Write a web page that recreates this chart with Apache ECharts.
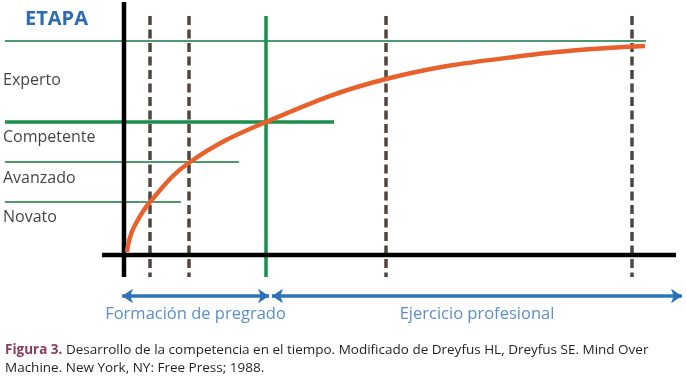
<!DOCTYPE html>
<html>
<head>
<meta charset="utf-8">
<script src="https://cdn.jsdelivr.net/npm/echarts@6/dist/echarts.min.js"></script>
<style>
html,body{margin:0;padding:0;background:#fff;}
#c{width:686px;height:378px;}
</style>
</head>
<body>
<div id="c"></div>
<script>
// Time axis (x) and competence axis (y), in chart units
const levelNames = ['Novato', 'Avanzado', 'Competente', 'Experto'];
const levelLabelY = [38, 77, 118, 175];
const levelBoundY = [53, 93, 133, 214];
const levelBoundEnd = [57, 115, 210, 522];
const dashedTimes = [26, 65, 262, 508];
const graduationTime = 142;
const curveX = [3, 5, 10, 26, 66, 142, 262, 406, 521];
const curveY = [3, 14, 28, 53, 93, 133, 176, 200, 209];
const phases = ['Formación de pregrado', 'Ejercicio profesional'];
const phaseStart = [-2, 148];
const phaseEnd = [145, 558];

const W = 686, H = 378, X0 = 124, Y0 = 255;
const LEFT = -119, TOP = 239, BOTTOM = -22;
const GREEN = '#1b8f4c', THIN = '#127a3c', BLUE = '#2e73b8', DASH = '#51463f';

const series = [];
function seg(pts, style) {
  series.push({type: 'line', data: pts, symbol: 'none', silent: true, lineStyle: style, z: style.z || 2});
}
// level boundary lines
levelBoundY.forEach((y, i) => {
  const thick = i === 2;
  seg([[LEFT, y], [levelBoundEnd[i], y]], {color: thick ? GREEN : THIN, width: thick ? 3.5 : 1.3});
});
// dashed time dividers
dashedTimes.forEach(t => seg([[t, TOP], [t, BOTTOM]], {color: DASH, width: 3.5, type: [9, 4.5]}));
// graduation line
seg([[graduationTime, TOP], [graduationTime, BOTTOM]], {color: GREEN, width: 3.5});
// axes
seg([[0, 253], [0, BOTTOM]], {color: '#000', width: 4.5, z: 3});
seg([[-22, 0], [552, 0]], {color: '#000', width: 4.5, z: 3});
// competence curve
series.push({
  type: 'line', smooth: 0.4, symbol: 'none', silent: true, z: 4,
  data: curveX.map((x, i) => [x, curveY[i]]),
  lineStyle: {color: '#e8612c', width: 4.5}
});
// phase arrows
series.push({
  type: 'lines', coordinateSystem: 'cartesian2d', silent: true, z: 4,
  symbol: ['arrow', 'arrow'], symbolSize: [11, 11],
  lineStyle: {color: BLUE, width: 3.5, opacity: 1},
  data: phases.map((p, i) => ({coords: [[phaseStart[i], -41], [phaseEnd[i], -41]]}))
});
// phase labels
series.push({
  type: 'scatter', symbolSize: 0, silent: true, z: 5,
  data: phases.map((p, i) => ({value: [(phaseStart[i] + phaseEnd[i]) / 2, -59], name: p})),
  label: {show: true, position: 'inside', formatter: p => p.name, color: '#3272b9',
          fontFamily: 'Open Sans', fontSize: 16.5}
});
// level labels
series.push({
  type: 'scatter', symbolSize: 0, silent: true, z: 5,
  data: levelNames.map((n, i) => ({value: [LEFT - 2, levelLabelY[i]], name: n})),
  label: {show: true, position: 'right', distance: 0, formatter: p => p.name, color: '#111',
          fontFamily: 'Open Sans', fontSize: 16}
});

const chart = echarts.init(document.getElementById('c'), null, {renderer: 'canvas'});
chart.setOption({
  animation: false,
  backgroundColor: '#fff',
  grid: {left: 0, right: 0, top: 0, bottom: 0},
  xAxis: {type: 'value', min: -X0, max: W - X0, show: false},
  yAxis: {type: 'value', min: Y0 - H, max: Y0, show: false},
  series: series,
  graphic: [
    {type: 'text', style: {x: 25, y: 19, text: 'ETAPA', verticalAlign: 'middle',
      font: 'bold 20px "Open Sans"', fill: '#2b6cb3'}},
    {type: 'text', style: {x: 5, y: 350, verticalAlign: 'middle',
      text: '{b|Figura 3.} Desarrollo de la competencia en el tiempo. Modificado de Dreyfus HL, Dreyfus SE. Mind Over',
      font: '13.5px "Liberation Sans Narrow", "Open Sans"', fill: '#231f20',
      rich: {b: {font: 'bold 13.5px "Liberation Sans Narrow", "Open Sans"', fill: '#8c3b60'}}}},
    {type: 'text', style: {x: 5, y: 368, verticalAlign: 'middle',
      text: 'Machine. New York, NY: Free Press; 1988.',
      font: '13.5px "Liberation Sans Narrow", "Open Sans"', fill: '#231f20'}}
  ]
});
</script>
</body>
</html>
